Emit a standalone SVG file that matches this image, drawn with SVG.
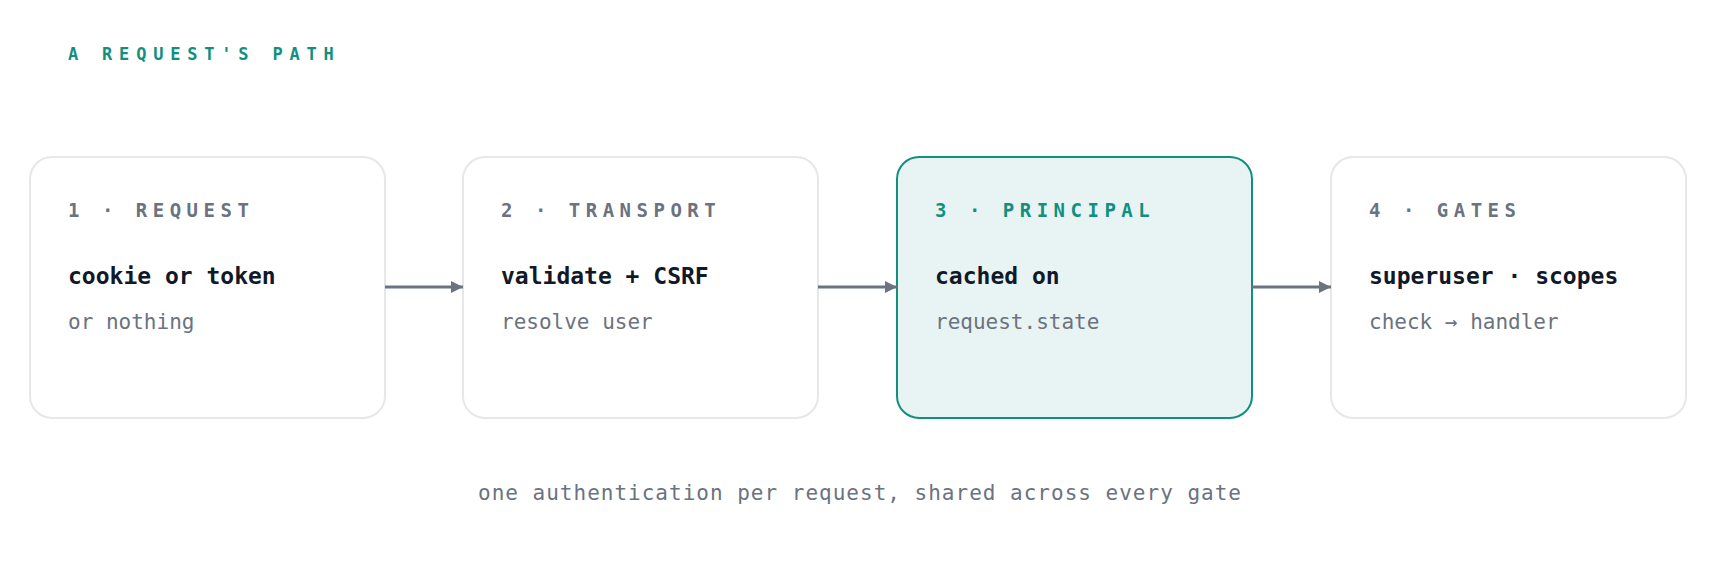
<svg xmlns="http://www.w3.org/2000/svg" width="1720" height="561" viewBox="0 0 1720 561">
<defs>
<marker id="ah" viewBox="0 0 10 10" refX="10" refY="5" markerWidth="4" markerHeight="4" orient="auto"><path d="M0,0 L10,5 L0,10 z" fill="#6b7280"/></marker>
<style>
.box{fill:#fff;stroke:#e5e7eb;stroke-width:2}
.hl{fill:#e8f4f3;stroke:#11907f;stroke-width:2}
.lab{font-family:"DejaVu Sans Mono",monospace;font-size:19px;font-weight:bold;letter-spacing:5.5px;fill:#6b7280}
.main{font-family:"DejaVu Sans Mono",monospace;font-size:23px;font-weight:bold;fill:#111827}
.sub{font-family:"DejaVu Sans Mono",monospace;font-size:21px;fill:#6b7280}
.conn{stroke:#6b7280;stroke-width:3;fill:none;marker-end:url(#ah)}
</style>
</defs>
<rect width="1720" height="561" fill="#fff"/>
<text x="68" y="60" font-family="DejaVu Sans Mono,monospace" font-size="17" font-weight="bold" letter-spacing="6.8" fill="#11907f">A REQUEST'S PATH</text>
<g id="n1"><rect class="box" x="30" y="157" width="355" height="261" rx="22"/>
<text class="lab" x="68" y="217">1 · REQUEST</text><text class="main" x="68" y="284">cookie or token</text><text class="sub" x="68" y="329">or nothing</text></g>
<g id="n2"><rect class="box" x="463" y="157" width="355" height="261" rx="22"/>
<text class="lab" x="501" y="217">2 · TRANSPORT</text><text class="main" x="501" y="284">validate + CSRF</text><text class="sub" x="501" y="329">resolve user</text></g>
<g id="n3"><rect class="hl" x="897" y="157" width="355" height="261" rx="22"/>
<text class="lab" x="935" y="217" style="fill:#11907f">3 · PRINCIPAL</text><text class="main" x="935" y="284">cached on</text><text class="sub" x="935" y="329">request.state</text></g>
<g id="n4"><rect class="box" x="1331" y="157" width="355" height="261" rx="22"/>
<text class="lab" x="1369" y="217">4 · GATES</text><text class="main" x="1369" y="284">superuser · scopes</text><text class="sub" x="1369" y="329">check → handler</text></g>
<g id="connectors">
<line class="conn" x1="385" y1="287" x2="463" y2="287"/>
<line class="conn" x1="818" y1="287" x2="897" y2="287"/>
<line class="conn" x1="1252" y1="287" x2="1331" y2="287"/>
</g>
<text x="860" y="500" text-anchor="middle" font-family="DejaVu Sans Mono,monospace" font-size="21" letter-spacing="1" fill="#6b7280">one authentication per request, shared across every gate</text>
</svg>
